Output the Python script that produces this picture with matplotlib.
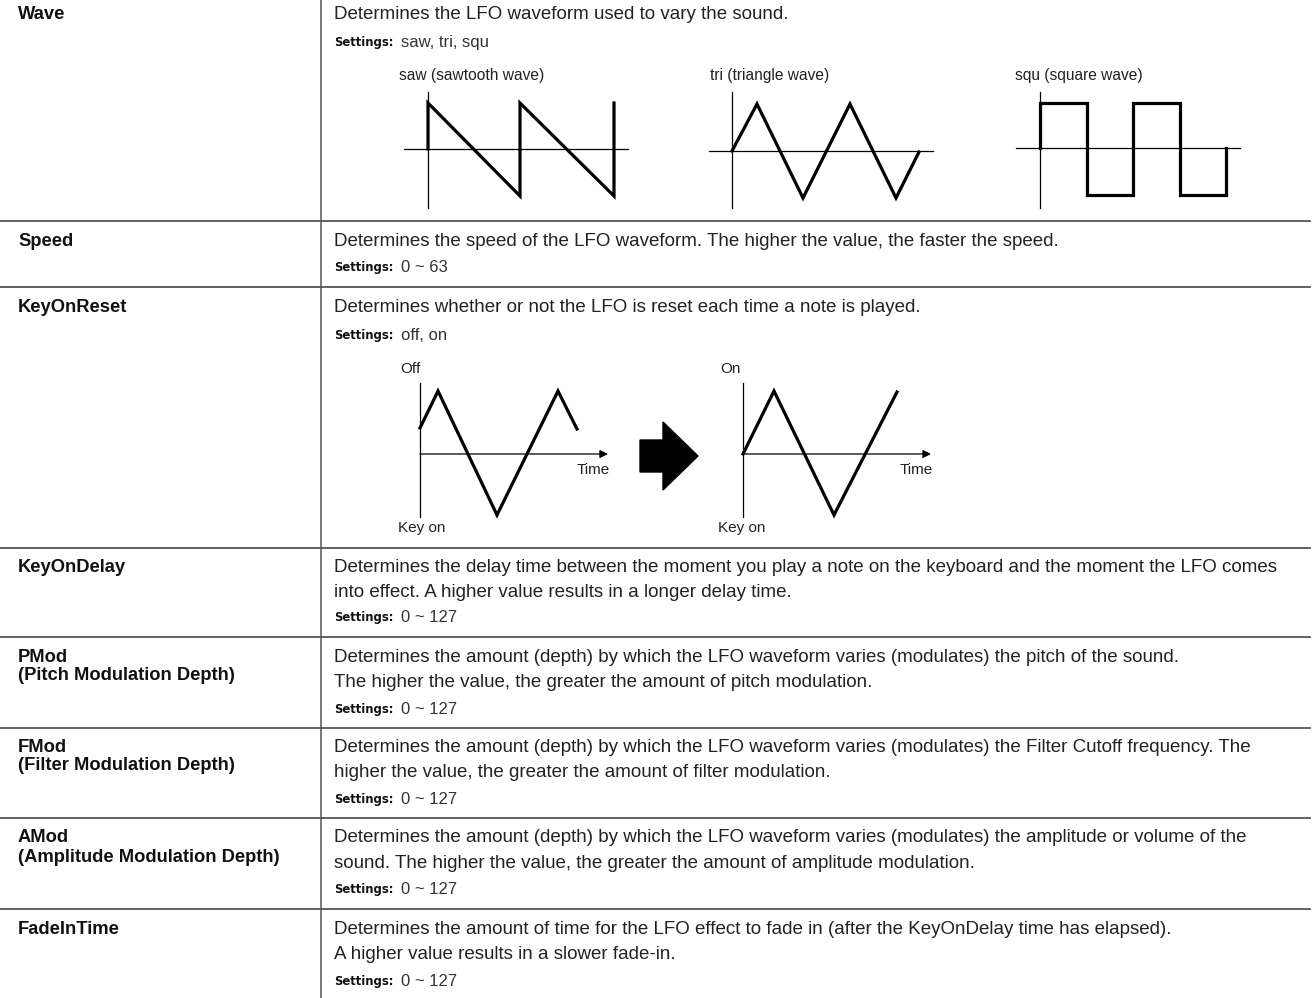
import matplotlib.pyplot as plt
from matplotlib.patches import Polygon
from matplotlib import font_manager

W, H = 1315, 998

# table rows
row_names = ["Wave", "Speed", "KeyOnReset", "KeyOnDelay",
             "PMod\n(Pitch Modulation Depth)", "FMod\n(Filter Modulation Depth)",
             "AMod\n(Amplitude Modulation Depth)", "FadeInTime"]
row_desc = [
    ["Determines the LFO waveform used to vary the sound."],
    ["Determines the speed of the LFO waveform. The higher the value, the faster the speed."],
    ["Determines whether or not the LFO is reset each time a note is played."],
    ["Determines the delay time between the moment you play a note on the keyboard and the moment the LFO comes",
     "into effect. A higher value results in a longer delay time."],
    ["Determines the amount (depth) by which the LFO waveform varies (modulates) the pitch of the sound.",
     "The higher the value, the greater the amount of pitch modulation."],
    ["Determines the amount (depth) by which the LFO waveform varies (modulates) the Filter Cutoff frequency. The",
     "higher the value, the greater the amount of filter modulation."],
    ["Determines the amount (depth) by which the LFO waveform varies (modulates) the amplitude or volume of the",
     "sound. The higher the value, the greater the amount of amplitude modulation."],
    ["Determines the amount of time for the LFO effect to fade in (after the KeyOnDelay time has elapsed).",
     "A higher value results in a slower fade-in."],
]
row_settings = ["saw, tri, squ", "0 ~ 63", "off, on", "0 ~ 127",
                "0 ~ 127", "0 ~ 127", "0 ~ 127", "0 ~ 127"]
row_top = [0, 221, 287, 548, 637, 728, 818, 909]
desc_y = [14, 241, 307, 567, 657, 747, 838, 929]
settings_y = [42, 268, 336, 618, 710, 800, 890, 981]

# waveform diagrams (pixel coords on the page)
wave_titles = ["saw (sawtooth wave)", "tri (triangle wave)", "squ (square wave)"]
wave_title_x = [399, 710, 1015]
wave_axis_x = [428, 732, 1040]
wave_axis_h = [(404, 628, 149), (709, 933, 151), (1016, 1240, 148)]
saw_x = [428, 428, 520, 520, 614, 614]
saw_y = [149, 103, 196, 103, 196, 103]
tri_x = [732, 757, 803, 850, 896, 919]
tri_y = [151, 104, 198, 104, 198, 152]
squ_x = [1040, 1040, 1087, 1087, 1133, 1133, 1180, 1180, 1226, 1226]
squ_y = [148, 103, 103, 195, 195, 103, 103, 195, 195, 148]

off_x = [420, 438, 497, 558, 577]
off_y = [428, 391, 515, 391, 429]
on_x = [743, 774, 834, 897]
on_y = [454, 391, 515, 392]

fig = plt.figure(figsize=(W / 100, H / 100), dpi=100)
ax = fig.add_axes([0, 0, 1, 1])
ax.set_xlim(0, W)
ax.set_ylim(H, 0)
ax.axis('off')

body = ['Liberation Sans', 'DejaVu Sans']
installed = {f.name for f in font_manager.fontManager.ttflist}
if 'Liberation Sans Narrow' in installed:
    narrow, nstretch, nsize = ['Liberation Sans Narrow'], 'normal', 11.5
else:
    narrow, nstretch, nsize = ['DejaVu Sans'], 'condensed', 9.3
txt = '#222222'
grid = '#555555'

# grid lines
ax.plot([321, 321], [0, H], color=grid, lw=1.1)
for t in row_top[1:]:
    ax.plot([0, 1310], [t, t], color=grid, lw=1.3)

for i, name in enumerate(row_names):
    for j, line in enumerate(name.split('\n')):
        ax.text(18, desc_y[i] + j * 19, line, fontsize=13.2, fontweight='bold',
                family=body, color='#111111', va='center')
    for j, line in enumerate(row_desc[i]):
        ax.text(334, desc_y[i] + j * 25.5, line, fontsize=13.5, family=body,
                color=txt, va='center')
    ax.text(334, settings_y[i], "Settings:", fontsize=nsize, fontweight='bold',
            family=narrow, fontstretch=nstretch, color='#111111', va='center')
    ax.text(401, settings_y[i], row_settings[i], fontsize=12, family=body,
            color='#333333', va='center')

# wave diagrams
for k in range(3):
    ax.text(wave_title_x[k], 75, wave_titles[k], fontsize=11.2, family=body,
            color=txt, va='center')
    x0, x1, yh = wave_axis_h[k]
    ax.plot([x0, x1], [yh, yh], color='black', lw=0.9)
    ax.plot([wave_axis_x[k], wave_axis_x[k]], [92, 208], color='black', lw=0.9)
ax.plot(saw_x, saw_y, color='black', lw=2.3, solid_joinstyle='miter')
ax.plot(tri_x, tri_y, color='black', lw=2.3, solid_joinstyle='miter')
ax.plot(squ_x, squ_y, color='black', lw=2.3, solid_joinstyle='miter')

# KeyOnReset diagrams
for ox, lbl, lx, tx in [(420, "Off", 400, 577), (743, "On", 720, 900)]:
    ax.plot([ox, ox], [383, 517], color='black', lw=0.9)
    ax.annotate('', xy=(ox + 188, 454), xytext=(ox, 454),
                arrowprops=dict(arrowstyle='-|>', color='black', lw=0.9,
                                mutation_scale=12, shrinkA=0, shrinkB=0))
    ax.text(lx, 369, lbl, fontsize=11, family=body, color=txt, va='center')
    ax.text(lx - 2, 528, "Key on", fontsize=11, family=body, color=txt, va='center')
    ax.text(tx, 470, "Time", fontsize=11, family=body, color=txt, va='center')
ax.plot(off_x, off_y, color='black', lw=2.3, solid_joinstyle='miter')
ax.plot(on_x, on_y, color='black', lw=2.3, solid_joinstyle='miter')

big_arrow = [(640, 440), (663, 440), (663, 422), (698, 456), (663, 490),
             (663, 472), (640, 472)]
ax.add_patch(Polygon(big_arrow, closed=True, color='black'))

fig.savefig('out.png', dpi=100)
